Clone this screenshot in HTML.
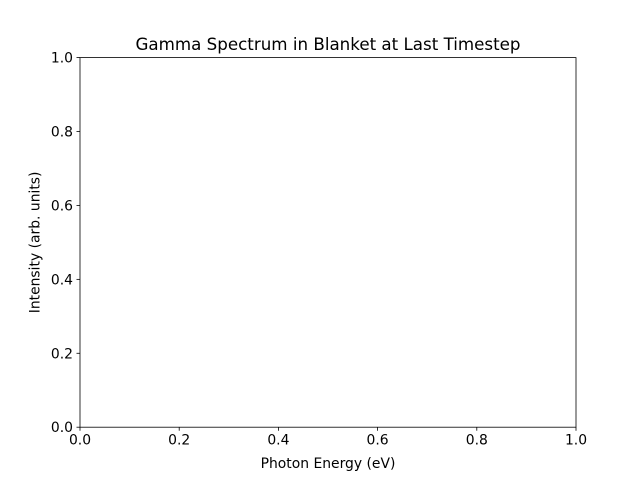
<!DOCTYPE html>
<html><head><meta charset="utf-8"><style>
html,body{margin:0;padding:0;background:#fff;}
svg{display:block;font-family:"DejaVu Sans","Liberation Sans",sans-serif;}
</style></head><body>
<svg id="chart" width="640" height="480" viewBox="0 0 640 480">
<rect x="0" y="0" width="640" height="480" fill="#fff"/>
<text x="328" y="50" font-size="16.7" text-anchor="middle" fill="#000">Gamma Spectrum in Blanket at Last Timestep</text>
<text x="328" y="468" font-size="13.9" text-anchor="middle" fill="#000">Photon Energy (eV)</text>
<text x="0" y="0" font-size="13.9" text-anchor="middle" fill="#000" transform="translate(39.5,242.4) rotate(-90)">Intensity (arb. units)</text>
<g id="xticks"></g>
<g id="yticks"></g>
<rect x="80" y="57.6" width="496" height="369.6" fill="none" stroke="#000" stroke-width="0.8"/>
</svg>
<script>
const xTicks = [0.0, 0.2, 0.4, 0.6, 0.8, 1.0];
const yTicks = [0.0, 0.2, 0.4, 0.6, 0.8, 1.0];
const xDomain = [0, 1];
const yDomain = [0, 1];
const L = 80, R = 576, T = 57.6, B = 427.2;
function xScale(v){ return L + (v - xDomain[0]) / (xDomain[1] - xDomain[0]) * (R - L); }
function yScale(v){ return B - (v - yDomain[0]) / (yDomain[1] - yDomain[0]) * (B - T); }
const NS = "http://www.w3.org/2000/svg";
const xg = document.getElementById('xticks');
const yg = document.getElementById('yticks');
xTicks.forEach(v => {
  const x = xScale(v);
  const ln = document.createElementNS(NS, 'line');
  ln.setAttribute('x1', x); ln.setAttribute('x2', x);
  ln.setAttribute('y1', B); ln.setAttribute('y2', B + 3.5);
  ln.setAttribute('stroke', '#000'); ln.setAttribute('stroke-width', '0.8');
  
  
  xg.appendChild(ln);
  const t = document.createElementNS(NS, 'text');
  t.setAttribute('x', x); t.setAttribute('y', B + 17.5);
  t.setAttribute('font-size', '13.9'); t.setAttribute('text-anchor', 'middle');
  t.textContent = v.toFixed(1);
  
  
  xg.appendChild(t);
});
yTicks.forEach(v => {
  const y = yScale(v);
  const ln = document.createElementNS(NS, 'line');
  ln.setAttribute('x1', L - 3.5); ln.setAttribute('x2', L);
  ln.setAttribute('y1', y); ln.setAttribute('y2', y);
  ln.setAttribute('stroke', '#000'); ln.setAttribute('stroke-width', '0.8');
  
  
  yg.appendChild(ln);
  const t = document.createElementNS(NS, 'text');
  t.setAttribute('x', L - 7); t.setAttribute('y', y + 5);
  t.setAttribute('font-size', '13.9'); t.setAttribute('text-anchor', 'end');
  t.textContent = v.toFixed(1);
  
  
  yg.appendChild(t);
});
</script>
</body></html>
